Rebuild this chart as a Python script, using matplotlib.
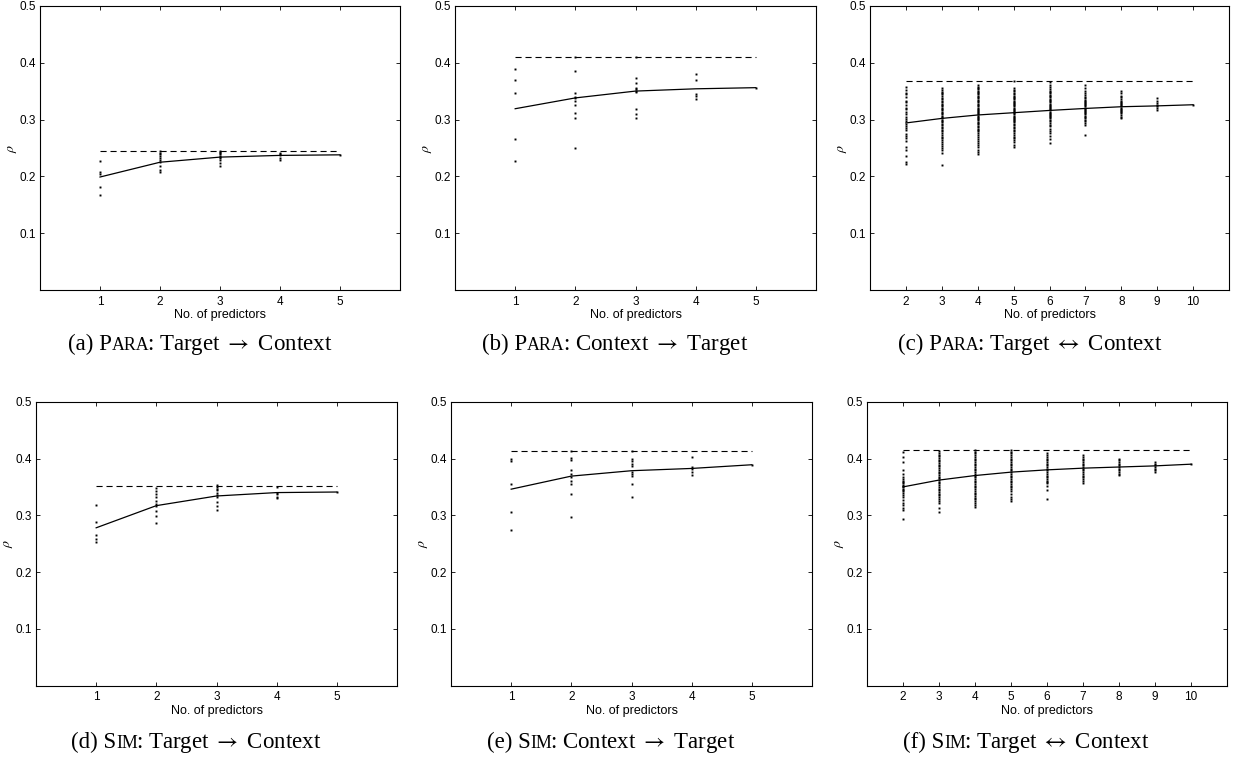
import matplotlib
matplotlib.use("Agg")
import matplotlib.pyplot as plt

W, H = 1233, 757

# ---- data (rho per predictor subset; mean line; best subset) ----
# (a) PARA: Target -> Context
a_x = [1, 2, 3, 4, 5]
a_pts = [
    [0.228, 0.208, 0.205, 0.182, 0.168],
    [0.244, 0.242, 0.239, 0.236, 0.233, 0.229, 0.225, 0.219, 0.212, 0.208],
    [0.245, 0.243, 0.241, 0.239, 0.236, 0.234, 0.232, 0.229, 0.224, 0.219],
    [0.241, 0.239, 0.237, 0.233, 0.229],
    [0.238],
]
a_mean = [0.199, 0.225, 0.234, 0.237, 0.238]
a_max = 0.245

# (b) PARA: Context -> Target
b_x = [1, 2, 3, 4, 5]
b_pts = [
    [0.389, 0.370, 0.347, 0.266, 0.228],
    [0.410, 0.385, 0.347, 0.340, 0.338, 0.333, 0.325, 0.312, 0.302, 0.250],
    [0.410, 0.373, 0.364, 0.356, 0.353, 0.351, 0.349, 0.318, 0.310, 0.302],
    [0.380, 0.369, 0.345, 0.341, 0.336],
    [0.356],
]
b_mean = [0.319, 0.338, 0.350, 0.354, 0.356]
b_max = 0.410

# (c) PARA: Target <-> Context
c_x = [2, 3, 4, 5, 6, 7, 8, 9, 10]
c_pts = [
    [0.358, 0.352, 0.347, 0.344, 0.340, 0.333, 0.330, 0.325, 0.321, 0.318, 0.314,
     0.309, 0.305, 0.301, 0.297, 0.292, 0.289, 0.285, 0.281, 0.275, 0.271, 0.268,
     0.262, 0.251, 0.246, 0.236, 0.226, 0.222],
    [0.355, 0.352, 0.349, 0.347, 0.344, 0.341, 0.338, 0.336, 0.333, 0.331, 0.328,
     0.326, 0.323, 0.321, 0.318, 0.316, 0.313, 0.311, 0.309, 0.306, 0.304, 0.302,
     0.300, 0.297, 0.295, 0.292, 0.290, 0.287, 0.285, 0.282, 0.279, 0.276, 0.273,
     0.270, 0.267, 0.264, 0.261, 0.257, 0.254, 0.250, 0.246, 0.242, 0.221],
    [0.361, 0.358, 0.356, 0.353, 0.351, 0.348, 0.346, 0.344, 0.341, 0.339, 0.337,
     0.334, 0.332, 0.330, 0.328, 0.326, 0.323, 0.321, 0.319, 0.317, 0.315, 0.313,
     0.311, 0.309, 0.307, 0.305, 0.303, 0.301, 0.299, 0.296, 0.294, 0.292, 0.289,
     0.287, 0.284, 0.282, 0.279, 0.276, 0.273, 0.270, 0.266, 0.263, 0.259, 0.255,
     0.251, 0.247, 0.243, 0.239],
    [0.367, 0.355, 0.352, 0.350, 0.347, 0.345, 0.342, 0.340, 0.338, 0.336, 0.333,
     0.331, 0.329, 0.327, 0.325, 0.323, 0.321, 0.319, 0.317, 0.315, 0.313, 0.311,
     0.309, 0.307, 0.305, 0.303, 0.301, 0.299, 0.297, 0.295, 0.292, 0.290, 0.287,
     0.285, 0.282, 0.279, 0.276, 0.273, 0.270, 0.267, 0.264, 0.260, 0.256, 0.251],
    [0.366, 0.361, 0.357, 0.354, 0.351, 0.348, 0.346, 0.343, 0.341, 0.339, 0.336,
     0.334, 0.332, 0.330, 0.328, 0.326, 0.324, 0.322, 0.320, 0.318, 0.316, 0.314,
     0.312, 0.310, 0.308, 0.306, 0.304, 0.302, 0.300, 0.297, 0.294, 0.291, 0.288,
     0.284, 0.280, 0.276, 0.271, 0.266, 0.259],
    [0.361, 0.355, 0.350, 0.346, 0.343, 0.340, 0.338, 0.335, 0.333, 0.331, 0.329,
     0.327, 0.325, 0.323, 0.321, 0.319, 0.317, 0.315, 0.313, 0.311, 0.309, 0.307,
     0.305, 0.303, 0.300, 0.297, 0.294, 0.291, 0.273],
    [0.350, 0.346, 0.342, 0.339, 0.336, 0.333, 0.331, 0.329, 0.327, 0.325, 0.323,
     0.321, 0.319, 0.317, 0.315, 0.313, 0.311, 0.308, 0.305, 0.302],
    [0.337, 0.333, 0.329, 0.326, 0.323, 0.320, 0.317],
    [0.326],
]
c_mean = [0.294, 0.302, 0.308, 0.312, 0.316, 0.3195, 0.3225, 0.324, 0.326]
c_max = 0.367

# (d) SIM: Target -> Context
d_x = [1, 2, 3, 4, 5]
d_pts = [
    [0.318, 0.289, 0.265, 0.259, 0.253],
    [0.348, 0.342, 0.337, 0.332, 0.326, 0.320, 0.316, 0.308, 0.298, 0.287],
    [0.353, 0.350, 0.347, 0.344, 0.340, 0.336, 0.333, 0.324, 0.316, 0.309],
    [0.350, 0.340, 0.337, 0.333, 0.330],
    [0.341],
]
d_mean = [0.278, 0.317, 0.334, 0.340, 0.341]
d_max = 0.351

# (e) SIM: Context -> Target
e_x = [1, 2, 3, 4, 5]
e_pts = [
    [0.399, 0.396, 0.355, 0.306, 0.274],
    [0.413, 0.401, 0.398, 0.380, 0.372, 0.367, 0.360, 0.355, 0.337, 0.297],
    [0.413, 0.399, 0.395, 0.390, 0.386, 0.376, 0.373, 0.369, 0.355, 0.333],
    [0.402, 0.385, 0.381, 0.376, 0.371],
    [0.389],
]
e_mean = [0.346, 0.369, 0.3785, 0.3825, 0.389]
e_max = 0.413

# (f) SIM: Target <-> Context
f_x = [2, 3, 4, 5, 6, 7, 8, 9, 10]
f_pts = [
    [0.412, 0.403, 0.394, 0.380, 0.372, 0.368, 0.364, 0.361, 0.358, 0.356, 0.353,
     0.351, 0.349, 0.347, 0.345, 0.342, 0.339, 0.336, 0.332, 0.327, 0.322, 0.318,
     0.313, 0.309, 0.293],
    [0.413, 0.410, 0.407, 0.404, 0.401, 0.398, 0.395, 0.392, 0.389, 0.386, 0.383,
     0.380, 0.377, 0.374, 0.371, 0.368, 0.365, 0.362, 0.359, 0.356, 0.353, 0.350,
     0.347, 0.344, 0.341, 0.338, 0.335, 0.332, 0.329, 0.325, 0.321, 0.312, 0.305],
    [0.415, 0.412, 0.409, 0.406, 0.403, 0.400, 0.397, 0.394, 0.391, 0.388, 0.385,
     0.382, 0.379, 0.376, 0.373, 0.370, 0.367, 0.364, 0.361, 0.358, 0.355, 0.352,
     0.349, 0.346, 0.343, 0.340, 0.337, 0.334, 0.331, 0.328, 0.325, 0.321, 0.318,
     0.315],
    [0.415, 0.412, 0.409, 0.406, 0.403, 0.400, 0.397, 0.394, 0.391, 0.388, 0.385,
     0.382, 0.379, 0.376, 0.373, 0.370, 0.367, 0.364, 0.361, 0.358, 0.355, 0.352,
     0.349, 0.346, 0.342, 0.338, 0.333, 0.329, 0.325],
    [0.409, 0.406, 0.403, 0.400, 0.397, 0.394, 0.391, 0.388, 0.385, 0.382, 0.379,
     0.376, 0.373, 0.370, 0.367, 0.364, 0.361, 0.358, 0.356, 0.352, 0.345, 0.328],
    [0.407, 0.403, 0.400, 0.397, 0.394, 0.391, 0.388, 0.385, 0.382, 0.379, 0.376,
     0.373, 0.370, 0.368, 0.364, 0.360, 0.357],
    [0.400, 0.397, 0.394, 0.391, 0.388, 0.385, 0.382, 0.379, 0.376, 0.373, 0.371],
    [0.394, 0.391, 0.388, 0.385, 0.382, 0.379, 0.377],
    [0.390],
]
f_mean = [0.350, 0.362, 0.370, 0.376, 0.380, 0.383, 0.385, 0.387, 0.390]
f_max = 0.415

yticks = [0.1, 0.2, 0.3, 0.4, 0.5]
ytick_labels = ["0.1", "0.2", "0.3", "0.4", "0.5"]

SANS = ["Liberation Sans", "DejaVu Sans"]
SERIF = ["Liberation Serif", "DejaVu Serif"]
plt.rcParams["mathtext.fontset"] = "stix"

fig = plt.figure(figsize=(W / 100, H / 100), dpi=100)


def add_ax(left, right, top, bottom):
    return fig.add_axes([left / W, 1 - bottom / H, (right - left) / W, (bottom - top) / H])


def panel(ax, xs, pts, mean, vmax, xlim):
    for x, col in zip(xs, pts):
        ax.plot([x] * len(col), col, ls="none", marker="s", ms=1.4, mew=0, color="black")
    ax.plot(xs, mean, color="black", lw=0.9)
    ax.plot([xs[0], xs[-1]], [vmax, vmax], color="black", lw=0.8, dashes=(5.5, 3.5))
    ax.set_xlim(*xlim)
    ax.set_ylim(0, 0.5)
    ax.set_xticks(xs)
    ax.set_xticklabels([str(x) for x in xs], fontsize=8.5, family=SANS)
    ax.set_yticks(yticks)
    ax.set_yticklabels(ytick_labels, fontsize=8.5, family=SANS)
    ax.tick_params(direction="in", top=True, right=True, length=3, width=0.6, pad=3)
    ax.tick_params(axis="x", pad=4)
    for s in ax.spines.values():
        s.set_linewidth(0.8)
    ax.set_xlabel("No. of predictors", fontsize=9, family=SANS, labelpad=1)
    ax.set_ylabel(r"$\rho$", fontsize=10, labelpad=0)


panel(add_ax(40, 400, 5.7, 290.3), a_x, a_pts, a_mean, a_max, (0, 6))
panel(add_ax(455, 816, 5.7, 290.3), b_x, b_pts, b_mean, b_max, (0, 6))
panel(add_ax(870, 1229, 5.7, 290.3), c_x, c_pts, c_mean, c_max, (1, 11))
panel(add_ax(36, 397, 401.7, 685.7), d_x, d_pts, d_mean, d_max, (0, 6))
panel(add_ax(451, 812, 401.7, 685.7), e_x, e_pts, e_mean, e_max, (0, 6))
panel(add_ax(867, 1227, 401.7, 685.7), f_x, f_pts, f_mean, f_max, (1, 11))

renderer = fig.canvas.get_renderer()


def caption(cx, y, parts, size=16.5):
    # small caps faked with a smaller font size; parts = (text, size factor, x nudge px)
    texts = []
    for s, k, dx in parts:
        texts.append(fig.text(0, 1 - y / H, s, fontsize=size * k, family=SERIF, va="baseline"))
    widths = [t.get_window_extent(renderer).width + dx for t, (s, k, dx) in zip(texts, parts)]
    x = cx - sum(widths) / 2
    for t, w, (s, k, dx) in zip(texts, widths, parts):
        t.set_x((x + dx) / W)
        x += w


caption(200, 350, [("(a) P", 1, 0), ("ARA", 0.78, 0), (r": Target $\rightarrow$ Context", 1, -2)])
caption(615, 350, [("(b) P", 1, 0), ("ARA", 0.78, 0), (r": Context $\rightarrow$ Target", 1, -2)])
caption(1030, 350, [("(c) P", 1, 0), ("ARA", 0.78, 0), (r": Target $\leftrightarrow$ Context", 1, -2)])
caption(196, 748, [("(d) S", 1, 0), ("IM", 0.78, 0), (r": Target $\rightarrow$ Context", 1, -2)])
caption(611, 748, [("(e) S", 1, 0), ("IM", 0.78, 0), (r": Context $\rightarrow$ Target", 1, -2)])
caption(1026, 748, [("(f) S", 1, 0), ("IM", 0.78, 0), (r": Target $\leftrightarrow$ Context", 1, -2)])

fig.savefig("out.png", dpi=100)
